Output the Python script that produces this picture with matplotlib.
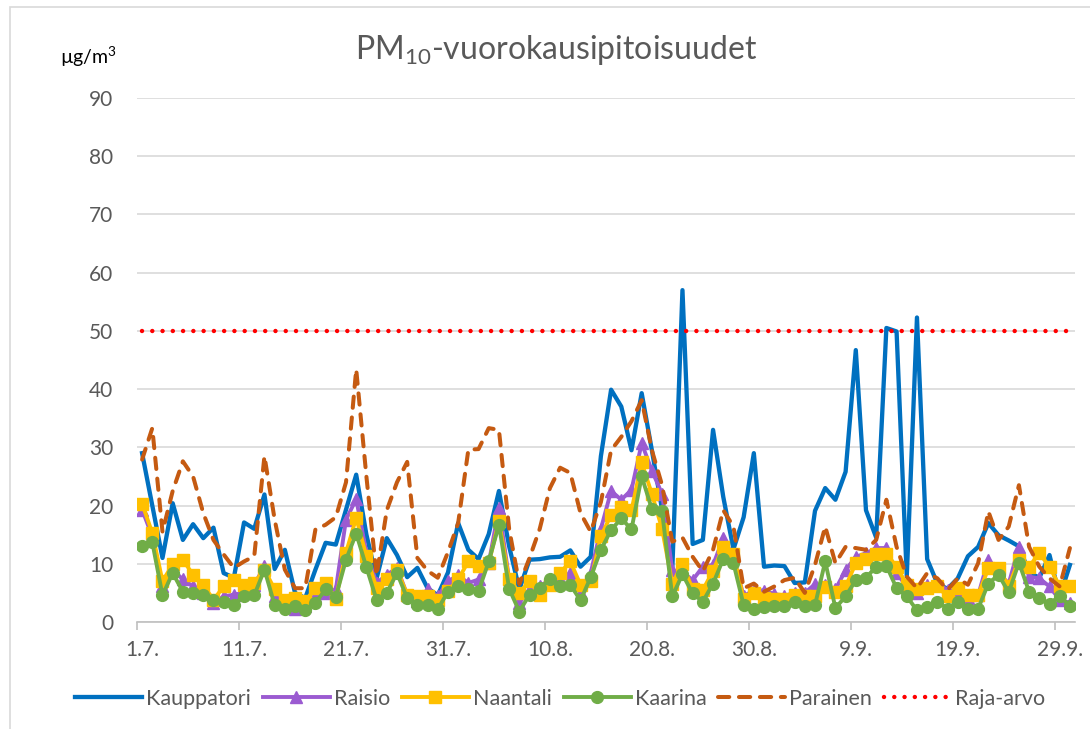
import matplotlib.pyplot as plt
from matplotlib.patches import Rectangle

plt.rcParams['font.family'] = ['Lato', 'DejaVu Sans']
plt.rcParams['mathtext.fontset'] = 'custom'
plt.rcParams['mathtext.rm'] = 'Lato'
plt.rcParams['mathtext.it'] = 'Lato:italic'

# daily values 1.7. - 30.9. (ug/m3)
KAUPPATORI = [29.0, 20.0, 11.0, 20.4, 14.1, 16.8, 14.4, 16.2, 8.4, 7.6,
              17.1, 16.0, 21.9, 9.1, 12.4, 5.0, 4.1, 9.0, 13.6, 13.3,
              19.3, 25.3, 15.0, 7.5, 14.4, 11.5, 7.7, 9.3, 5.8, 4.6,
              8.5, 17.0, 12.4, 10.8, 15.1, 22.5, 13.0, 5.6, 10.7, 10.8,
              11.1, 11.2, 12.3, 9.5, 11.2, 28.5, 39.9, 37.0, 29.5, 39.3,
              29.5, 19.3, 8.9, 57.0, 13.4, 14.1, 33.0, 21.5, 12.5, 18.0,
              29.0, 9.5, 9.7, 9.6, 6.7, 6.8, 19.1, 23.0, 21.0, 25.8,
              46.7, 19.2, 14.5, 50.5, 49.9, 7.8, 52.3, 10.8, 6.6, 5.7,
              7.5, 11.3, 12.9, 17.0, 14.9, 14.0, 13.0, 8.5, 7.6, 11.5,
              4.3, 9.8]
RAISIO = [19.3, 14.7, 6.1, 9.0, 7.3, 6.1, 5.0, 3.3, 4.4, 4.7,
          5.0, 6.4, 9.6, 4.4, 3.3, 2.3, 2.7, 4.4, 5.0, 5.6,
          17.6, 21.1, 11.9, 6.7, 8.1, 9.3, 4.7, 3.6, 5.6, 4.4,
          7.0, 8.0, 6.7, 7.3, 10.1, 19.6, 7.3, 3.3, 5.6, 6.1,
          7.3, 7.3, 8.4, 5.0, 8.4, 16.0, 22.5, 21.0, 22.7, 30.7,
          26.0, 22.0, 8.9, 8.6, 7.2, 9.5, 9.8, 14.4, 11.2, 4.4,
          5.5, 5.4, 4.8, 4.5, 5.0, 5.0, 6.5, 6.3, 5.6, 8.9,
          11.2, 11.8, 12.7, 12.7, 8.4, 6.1, 4.9, 6.4, 6.6, 5.5,
          4.9, 4.1, 4.6, 10.7, 8.4, 6.6, 12.9, 7.8, 7.5, 6.1,
          3.8, 3.3]
NAANTALI = [20.3, 15.3, 7.0, 9.9, 10.7, 8.1, 6.4, 3.8, 6.1, 7.2,
            6.4, 6.7, 9.0, 5.6, 3.8, 4.2, 3.6, 5.8, 6.7, 4.0,
            11.9, 17.9, 11.3, 5.8, 7.3, 9.0, 4.7, 4.4, 4.4, 3.8,
            5.3, 7.3, 10.4, 9.6, 10.1, 17.3, 7.3, 5.0, 7.0, 4.7,
            6.4, 8.4, 10.4, 6.4, 7.0, 14.7, 18.4, 19.8, 19.2, 27.4,
            22.0, 16.0, 6.6, 10.0, 5.6, 5.5, 8.8, 12.9, 11.6, 4.0,
            5.0, 4.2, 4.0, 4.0, 4.6, 4.4, 4.4, 6.0, 5.2, 6.1,
            10.1, 10.9, 11.7, 11.7, 9.5, 6.4, 5.6, 5.8, 6.1, 4.4,
            5.8, 4.6, 4.6, 9.2, 9.2, 6.1, 10.7, 9.5, 11.8, 9.5,
            6.1, 6.1]
KAARINA = [13.0, 13.7, 4.6, 8.4, 5.2, 5.0, 4.7, 3.7, 3.4, 3.0,
           4.5, 4.6, 9.0, 2.9, 2.2, 2.7, 2.1, 3.3, 5.6, 4.3,
           10.7, 15.2, 9.4, 3.8, 5.0, 8.4, 4.1, 3.0, 2.9, 2.2,
           5.2, 6.2, 5.7, 5.3, 10.4, 16.7, 5.7, 1.8, 4.7, 5.8,
           7.3, 6.2, 6.4, 3.7, 7.7, 12.4, 15.8, 17.8, 15.9, 25.0,
           19.4, 19.0, 4.4, 8.2, 4.9, 3.5, 6.6, 10.8, 10.1, 2.9,
           2.3, 2.5, 2.7, 2.7, 3.5, 2.8, 2.9, 10.4, 2.4, 4.4,
           7.2, 7.6, 9.5, 9.7, 5.8, 4.4, 2.0, 2.5, 3.5, 2.3,
           3.5, 2.2, 2.3, 6.6, 8.1, 5.1, 10.2, 5.2, 4.1, 3.1,
           4.5, 2.7]
PARAINEN = [27.9, 33.3, 15.5, 22.5, 27.6, 25.0, 18.7, 14.1, 11.6, 9.3,
            10.4, 11.3, 28.5, 17.6, 9.0, 5.8, 5.8, 15.9, 16.7, 18.0,
            24.0, 43.4, 25.0, 8.0, 19.2, 24.0, 27.5, 11.0, 8.8, 7.6,
            12.0, 17.0, 29.6, 29.7, 33.3, 33.0, 16.0, 6.5, 11.0, 16.0,
            23.0, 26.5, 25.6, 18.7, 15.5, 20.6, 29.5, 31.8, 34.5, 38.1,
            29.5, 23.5, 13.8, 14.5, 11.2, 8.7, 12.4, 19.2, 16.4, 5.8,
            6.6, 5.2, 6.1, 7.2, 7.6, 5.0, 9.8, 16.4, 10.1, 12.9,
            12.7, 12.4, 14.1, 21.0, 12.9, 7.8, 5.8, 8.4, 7.5, 5.5,
            7.5, 6.4, 10.1, 19.0, 14.1, 16.4, 23.5, 12.9, 9.5, 7.5,
            6.1, 12.7]
RAJA_ARVO = [50] * len(KAUPPATORI)

TICK_LABELS = ['1.7.', '11.7.', '21.7.', '31.7.', '10.8.', '20.8.', '30.8.',
               '9.9.', '19.9.', '29.9.']

days = list(range(len(KAUPPATORI)))

fig = plt.figure(figsize=(10.9, 7.29), dpi=100)
fig.patches.append(Rectangle((10 / 1090, -0.1), 1.2, 1.1 - 7 / 729,
                             transform=fig.transFigure, fill=False,
                             edgecolor='#d9d9d9', lw=1.2))
ax = fig.add_axes([137 / 1090, 1 - 622 / 729, 938 / 1090, 524 / 729])

ax.plot(days, KAUPPATORI, color='#0070C0', lw=3.1, label='Kauppatori', zorder=3)
ax.plot(days, RAISIO, color='#9B5BD1', lw=2.8, marker='^', ms=8.5,
        label='Raisio', zorder=3)
ax.plot(days, NAANTALI, color='#FFC000', lw=2.8, marker='s', ms=8.5,
        label='Naantali', zorder=3)
ax.plot(days, KAARINA, color='#70AD47', lw=2.8, marker='o', ms=8.5,
        label='Kaarina', zorder=3)
ax.plot(days, PARAINEN, color='#C55A11', lw=2.9, ls=(0, (2.8, 2.4)),
        dash_capstyle='round', label='Parainen', zorder=3)
ax.plot(days, RAJA_ARVO, color='#FF0000', lw=3.2, ls=(0, (0.01, 2.3)),
        dash_capstyle='round', label='Raja-arvo', zorder=3)

ax.set_xlim(-0.5, len(days) - 0.5)
ax.set_ylim(0, 90)
ax.set_yticks(range(0, 91, 10))
ax.set_xticks(range(0, len(days), 10))
ax.set_xticklabels(TICK_LABELS)
ax.set_xticks([x - 0.5 for x in range(0, len(days), 10)], minor=True)
ax.tick_params(axis='x', which='major', length=0, pad=13, labelsize=15,
               labelcolor='#595959')
ax.tick_params(axis='x', which='minor', length=6, width=1.2, color='#bfbfbf')
ax.tick_params(axis='y', length=0, pad=17, labelsize=15, labelcolor='#595959')
ax.grid(axis='y', color='#d9d9d9', lw=1.2)
ax.set_axisbelow(True)
for s in ['top', 'left', 'right']:
    ax.spines[s].set_visible(False)
ax.spines['bottom'].set_color('#bfbfbf')
ax.spines['bottom'].set_linewidth(1.2)

fig.text(0.51, 1 - 50 / 729, r'PM$_{\mathrm{10}}$-vuorokausipitoisuudet',
         ha='center', va='center', fontsize=23, color='#595959')
fig.text(60 / 1090, 1 - 57 / 729, r'µg/m$^{\mathrm{3}}$', ha='left',
         va='center', fontsize=14, color='#000000')

fig.legend(loc='center', bbox_to_anchor=(0.514, 1 - 699 / 729), ncol=6,
           frameon=False, fontsize=15.5, handlelength=3.1, handletextpad=0.2,
           columnspacing=0.55, labelcolor='#595959', numpoints=1)

fig.savefig('out.png', dpi=100)
